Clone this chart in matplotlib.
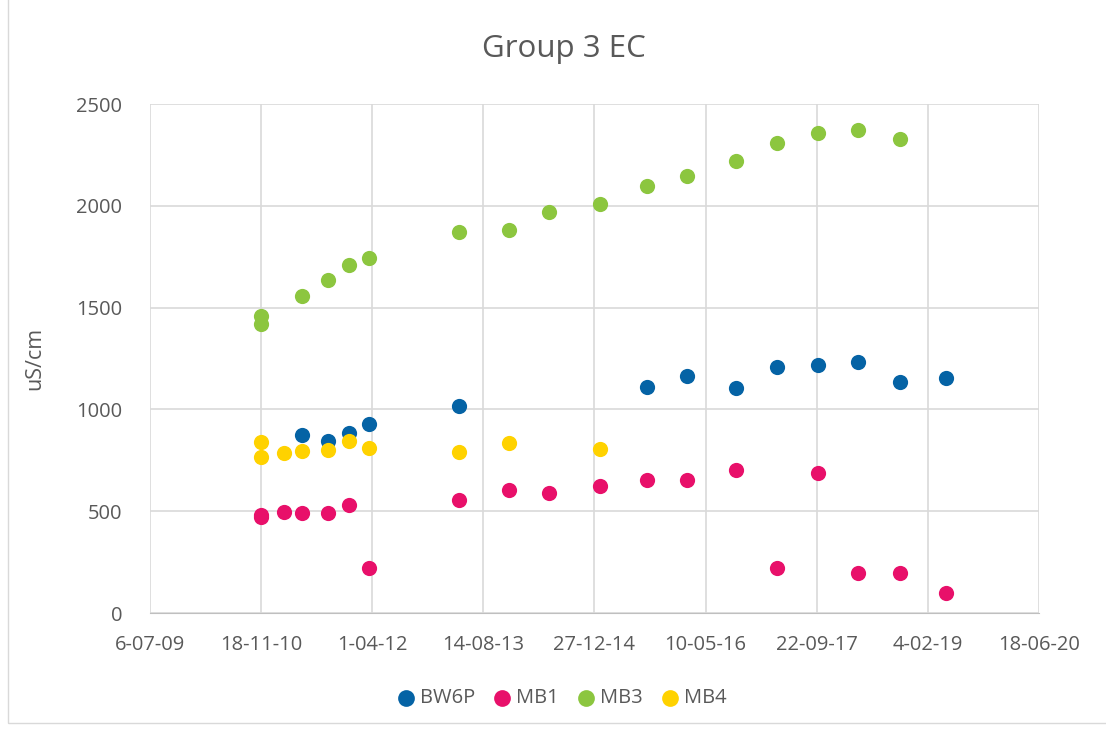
import matplotlib
matplotlib.use("Agg")
import matplotlib.pyplot as plt
import pandas as pd
import datetime as dt

# sample dates and EC values (uS/cm)
bw6p_dates = ["2011-05-23", "2011-09-13", "2011-12-19", "2012-03-16", "2013-04-27",
              "2015-08-20", "2016-02-16", "2016-09-26", "2017-03-29", "2017-09-26",
              "2018-03-25", "2018-10-01", "2019-04-27"]
bw6p_vals = [874, 846, 886, 930, 1017, 1110, 1166, 1104, 1210, 1218, 1231, 1136, 1156]

mb1_dates = ["2010-11-18", "2010-11-18", "2011-03-01", "2011-05-23", "2011-09-13",
             "2011-12-19", "2012-03-16", "2013-04-27", "2013-12-07", "2014-06-05",
             "2015-01-21", "2015-08-20", "2016-02-16", "2016-09-26", "2017-03-29",
             "2017-09-26", "2018-03-25", "2018-10-01", "2019-04-27"]
mb1_vals = [480, 470, 495, 490, 493, 530, 219, 555, 604, 591, 624, 652, 653, 702,
            222, 688, 195, 195, 97]

mb3_dates = ["2010-11-18", "2010-11-18", "2011-05-23", "2011-09-13", "2011-12-19",
             "2012-03-16", "2013-04-27", "2013-12-07", "2014-06-05", "2015-01-21",
             "2015-08-20", "2016-02-16", "2016-09-26", "2017-03-29", "2017-09-26",
             "2018-03-25", "2018-10-01"]
mb3_vals = [1460, 1420, 1555, 1635, 1709, 1742, 1870, 1883, 1971, 2009, 2097, 2148,
            2220, 2307, 2356, 2372, 2327]

mb4_dates = ["2010-11-18", "2010-11-18", "2011-03-01", "2011-05-23", "2011-09-13",
             "2011-12-19", "2012-03-16", "2013-04-27", "2013-12-07", "2015-01-21"]
mb4_vals = [841, 765, 784, 797, 800, 845, 809, 792, 833, 805]

series = [
    ("BW6P", bw6p_dates, bw6p_vals, "#0563A5"),
    ("MB1", mb1_dates, mb1_vals, "#E8106A"),
    ("MB3", mb3_dates, mb3_vals, "#8CC63F"),
    ("MB4", mb4_dates, mb4_vals, "#FFD200"),
]

plt.rcParams["font.family"] = ["Open Sans", "DejaVu Sans"]
txt = "#595959"

fig = plt.figure(figsize=(11.06, 7.31), dpi=100)
ax = fig.add_axes([0.1356, 0.1614, 0.8038, 0.6963])

for name, d, v, c in series:
    ax.scatter(pd.to_datetime(d), v, s=120, color=c, label=name, zorder=3, linewidths=0)

start = dt.datetime(2009, 7, 6)
ticks = [start + dt.timedelta(days=500 * i) for i in range(9)]
ax.set_xlim(ticks[0], ticks[-1])
ax.set_xticks(ticks)
ax.set_xticklabels([f"{t.day}-{t.month:02d}-{t.year % 100:02d}" for t in ticks])
ax.set_ylim(0, 2500)
ax.set_yticks(range(0, 2501, 500))

ax.grid(True, color="#D9D9D9", linewidth=1.2)
ax.set_axisbelow(True)
for s in ["top", "right", "left"]:
    ax.spines[s].set_visible(False)
ax.spines["bottom"].set_color("#BFBFBF")
ax.tick_params(length=0, labelsize=14.5, colors=txt)
ax.tick_params(axis="x", pad=16)
ax.tick_params(axis="y", pad=20)

ax.set_ylabel("uS/cm", fontsize=15.5, color=txt)
ax.yaxis.set_label_coords(-0.118, 0.5)
fig.text(0.51, 0.933, "Group 3 EC", fontsize=22.5, color=txt, ha="center", va="center")

ax.legend(loc="center", bbox_to_anchor=(0.508, 1 - 698 / 731), bbox_transform=fig.transFigure,
          ncol=4, frameon=False, fontsize=14.5, labelcolor=txt, handlelength=0.9,
          handletextpad=0.25, columnspacing=0.9, markerscale=1.1, borderaxespad=0)

fig.patches.append(plt.Rectangle((0.0072, 0.011), 1.2, 1.2, transform=fig.transFigure,
                                 fill=False, edgecolor="#D9D9D9", linewidth=1))

fig.savefig("out.png", dpi=100)
